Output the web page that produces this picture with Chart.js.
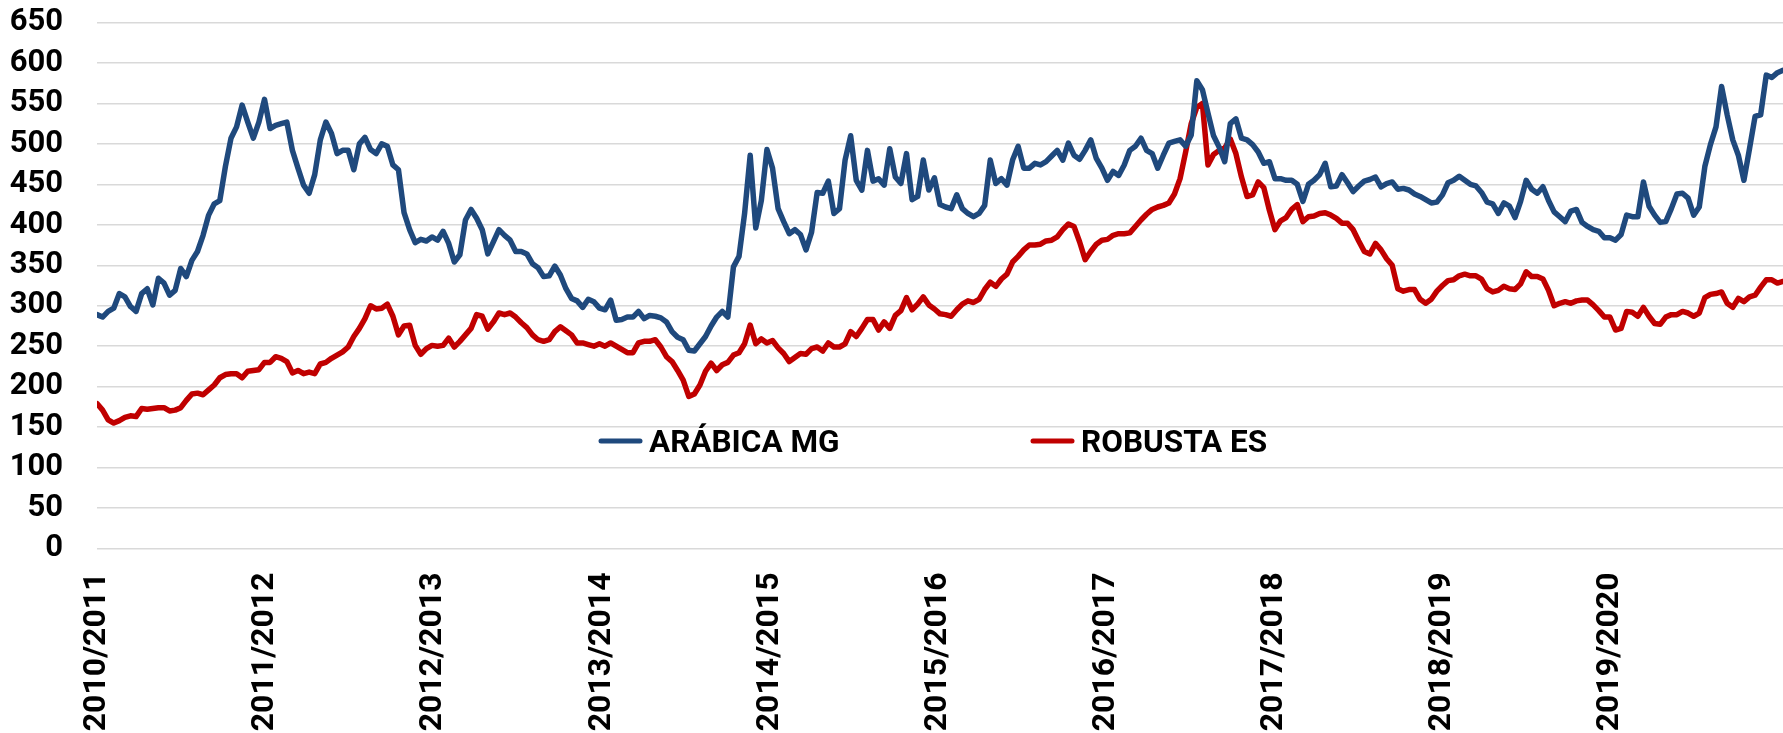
<!DOCTYPE html>
<html>
<head>
<meta charset="utf-8">
<script src="https://cdn.jsdelivr.net/npm/chart.js@4.4.1/dist/chart.umd.min.js"></script>
<style>
  html, body { margin: 0; padding: 0; background: #ffffff; }
  #wrap { width: 1783px; height: 733px; }
</style>
</head>
<body>
<div id="wrap"><canvas id="prices" width="1783" height="733"></canvas></div>
<script>
// Crop seasons shown on the horizontal axis
const seasons = ['2010/2011', '2011/2012', '2012/2013', '2013/2014', '2014/2015',
                 '2015/2016', '2016/2017', '2017/2018', '2018/2019', '2019/2020'];

// Sample number (about every 12 days) at which each season begins
const seasonStart = [0, 30.1, 60.2, 90.4, 120.5, 150.6, 180.7, 210.8, 241.0, 271.1];

// Arábica (Minas Gerais) price, R$ per bag
const arabicaMG = [
  289, 286, 293, 297, 315, 311, 299, 293, 315, 321,
  301, 334, 328, 313, 319, 346, 336, 356, 367, 387,
  412, 426, 430, 472, 507, 521, 548, 527, 507, 527,
  555, 519, 523, 525, 527, 492, 470, 449, 439, 462,
  505, 527, 513, 488, 492, 492, 468, 500, 508, 493,
  488, 500, 497, 474, 468, 415, 394, 378, 382, 380,
  385, 381, 392, 377, 354, 363, 406, 419, 408, 394,
  364, 379, 394, 387, 381, 367, 367, 364, 352, 347,
  336, 337, 349, 338, 321, 309, 306, 298, 308, 305,
  297, 295, 307, 282, 283, 286, 286, 293, 284, 288,
  287, 285, 280, 268, 261, 258, 245, 244, 253, 262,
  275, 286, 293, 286, 348, 361, 414, 486, 396, 430,
  493, 470, 420, 404, 389, 394, 388, 369, 391, 440,
  439, 454, 414, 420, 480, 510, 455, 443, 492, 454,
  457, 449, 494, 459, 451, 488, 431, 435, 480, 443,
  458, 425, 422, 420, 437, 420, 414, 410, 414, 424,
  480, 451, 457, 449, 480, 497, 470, 470, 476, 474,
  478, 485, 492, 480, 501, 486, 481, 492, 505, 482,
  470, 455, 466, 461, 474, 492, 497, 507, 492, 488,
  470, 486, 501, 503, 505, 497, 511, 578, 567, 538,
  510, 496, 478, 525, 531, 507, 505, 499, 490, 476,
  478, 457, 457, 455, 455, 450, 429, 450, 455, 462,
  476, 447, 448, 462, 452, 441, 448, 454, 456, 459,
  447, 451, 453, 444, 445, 443, 438, 435, 431, 427,
  428, 437, 452, 455, 460, 455, 450, 448, 440, 428,
  426, 414, 427, 423, 409, 429, 455, 444, 439, 447,
  430, 416, 410, 404, 417, 419, 403, 398, 394, 392,
  384, 384, 381, 388, 412, 410, 410, 453, 423, 412,
  403, 404, 420, 438, 439, 433, 412, 422, 472, 499,
  521, 571, 536, 505, 486, 455, 494, 534, 536, 585,
  582, 588, 591
];

// Robusta (Espírito Santo) price, R$ per bag
const robustaES = [
  179, 171, 159, 155, 158, 162, 164, 163, 173, 172,
  173, 174, 174, 170, 171, 174, 183, 191, 192, 190,
  196, 202, 211, 215, 216, 216, 211, 219, 220, 221,
  230, 230, 237, 235, 231, 217, 220, 216, 218, 216,
  228, 230, 235, 239, 243, 249, 262, 272, 284, 300,
  296, 297, 302, 287, 264, 275, 276, 251, 240, 247,
  251, 250, 251, 260, 249, 256, 264, 272, 289, 287,
  271, 280, 291, 289, 291, 286, 279, 273, 264, 258,
  256, 258, 268, 274, 269, 264, 254, 254, 252, 250,
  253, 250, 254, 250, 246, 242, 242, 254, 256, 256,
  258, 249, 237, 231, 220, 208, 188, 191, 202, 219,
  229, 220, 227, 230, 239, 242, 253, 276, 253, 259,
  254, 257, 248, 241, 231, 236, 241, 240, 247, 249,
  244, 254, 249, 249, 253, 268, 262, 272, 283, 283,
  270, 280, 272, 288, 294, 310, 295, 302, 311, 301,
  296, 290, 289, 287, 295, 302, 306, 304, 308, 320,
  329, 324, 333, 339, 354, 361, 369, 375, 375, 376,
  380, 381, 385, 394, 401, 398, 379, 357, 367, 376,
  381, 382, 387, 389, 389, 390, 398, 406, 413, 419,
  422, 424, 427, 438, 457, 490, 525, 545, 550, 474,
  487, 492, 495, 506, 488, 459, 435, 437, 453, 446,
  418, 394, 405, 409, 419, 425, 404, 410, 411, 414,
  415, 412, 408, 402, 402, 394, 380, 367, 364, 377,
  369, 358, 350, 321, 318, 320, 320, 308, 303, 308,
  318, 325, 331, 332, 337, 339, 337, 337, 333, 321,
  317, 319, 324, 321, 320, 327, 342, 336, 336, 333,
  319, 300, 303, 305, 303, 306, 307, 307, 301, 294,
  286, 286, 270, 272, 293, 292, 287, 298, 287, 278,
  277, 286, 289, 289, 293, 291, 287, 291, 310, 314,
  315, 317, 303, 298, 309, 305, 311, 313, 323, 332,
  332, 328, 330
];

// Vertical axis range
const yMin = 0;
const yMax = 650;
const yStep = 50;

const seriesNames = ['ARÁBICA MG', 'ROBUSTA ES'];
const seriesColors = ['#1F497D', '#C00000'];

const toPoints = values => values.map((v, i) => ({ x: i, y: v }));

const fontFamily = 'Roboto, "Liberation Sans", sans-serif';

// Legend drawn inside the plot: a short line sample followed by the bold series name
const inlineLegend = {
  id: 'inlineLegend',
  afterDatasetsDraw(chart) {
    const ctx = chart.ctx;
    const midY = 441;
    const starts = [599, 1031];
    chart.data.datasets.forEach((ds, k) => {
      const x = starts[k];
      ctx.save();
      ctx.strokeStyle = ds.borderColor;
      ctx.lineWidth = 5;
      ctx.lineCap = 'round';
      ctx.beginPath();
      ctx.moveTo(x + 2, midY);
      ctx.lineTo(x + 41, midY);
      ctx.stroke();
      ctx.font = 'bold 31.5px ' + fontFamily;
      ctx.fillStyle = '#000000';
      ctx.textBaseline = 'alphabetic';
      ctx.fillText(ds.label, x + 50, midY + 11);
      ctx.restore();
    });
  }
};

new Chart(document.getElementById('prices'), {
  type: 'line',
  data: {
    datasets: [
      { label: seriesNames[0], data: toPoints(arabicaMG), borderColor: seriesColors[0] },
      { label: seriesNames[1], data: toPoints(robustaES), borderColor: seriesColors[1] }
    ]
  },
  options: {
    responsive: false,
    animation: false,
    devicePixelRatio: 1,
    layout: { padding: { top: 22.5, left: 0, right: 0, bottom: 0 } },
    plugins: { legend: { display: false }, tooltip: { enabled: false } },
    elements: {
      point: { radius: 0 },
      line: { tension: 0, borderWidth: 5.5, borderJoinStyle: 'round', borderCapStyle: 'round', fill: false }
    },
    scales: {
      x: {
        type: 'linear',
        min: 0,
        max: arabicaMG.length - 1,
        grid: { display: false, drawTicks: false },
        border: { display: false },
        afterBuildTicks: scale => { scale.ticks = seasonStart.map(v => ({ value: v })); },
        afterFit: scale => { scale.height = 184.5; },
        ticks: {
          autoSkip: false,
          minRotation: 90,
          maxRotation: 90,
          padding: 24,
          color: '#000000',
          font: { family: fontFamily, weight: 'bold', size: 32 },
          callback: (value, index) => seasons[index] ?? ''
        }
      },
      y: {
        min: yMin,
        max: yMax,
        afterFit: scale => { scale.width = 97; },
        border: { display: false },
        grid: { color: '#d9d9d9', lineWidth: 1.5, drawTicks: true, tickLength: 34, tickColor: 'rgba(0,0,0,0)' },
        ticks: { stepSize: yStep, padding: 0, autoSkip: false, color: '#000000',
                 font: { family: fontFamily, weight: 'bold', size: 31 } }
      }
    }
  },
  plugins: [inlineLegend]
});
</script>
</body>
</html>
